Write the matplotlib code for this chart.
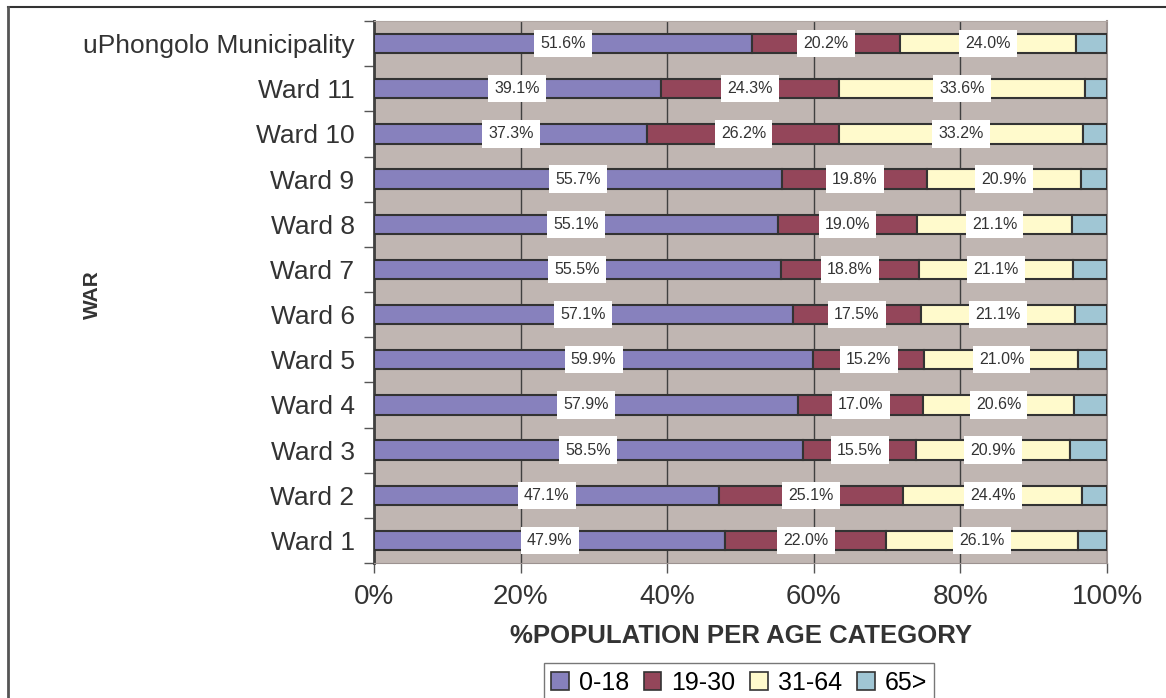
import matplotlib
matplotlib.use('Agg')
import matplotlib.pyplot as plt
import numpy as np

plt.rcParams['font.family'] = ['Liberation Sans', 'DejaVu Sans']

# data (top to bottom as in the chart)
wards = ['uPhongolo Municipality', 'Ward 11', 'Ward 10', 'Ward 9', 'Ward 8', 'Ward 7',
         'Ward 6', 'Ward 5', 'Ward 4', 'Ward 3', 'Ward 2', 'Ward 1']
age_0_18 = [51.6, 39.1, 37.3, 55.7, 55.1, 55.5, 57.1, 59.9, 57.9, 58.5, 47.1, 47.9]
age_19_30 = [20.2, 24.3, 26.2, 19.8, 19.0, 18.8, 17.5, 15.2, 17.0, 15.5, 25.1, 22.0]
age_31_64 = [24.0, 33.6, 33.2, 20.9, 21.1, 21.1, 21.1, 21.0, 20.6, 20.9, 24.4, 26.1]
age_65 = [4.2, 3.0, 3.3, 3.6, 4.8, 4.6, 4.3, 3.9, 4.5, 5.1, 3.4, 4.0]
series_names = ['0-18', '19-30', '31-64', '65>']
colors = ['#8781BD', '#94465A', '#FFFACC', '#A0C6D4']

fig = plt.figure(figsize=(11.66, 6.98), dpi=100)
ax = fig.add_axes([374/1166, 1 - 563/698, (1107-374)/1166, (563-21)/698])
ax.set_facecolor('#C0B6B2')

y = np.arange(len(wards))[::-1]
series = [age_0_18, age_19_30, age_31_64, age_65]
left = np.zeros(len(wards))
for vals, c, name in zip(series, colors, series_names):
    vals = np.array(vals)
    ax.barh(y, vals, left=left, height=0.43, color=c, edgecolor='#333333',
            linewidth=1.5, label=name, zorder=3)
    if name != '65>':
        for yi, l, v in zip(y, left, vals):
            ax.text(l + v / 2, yi, f'{v:.1f}%', ha='center', va='center',
                    fontsize=11.5, color='#333333', zorder=4,
                    bbox=dict(facecolor='white', edgecolor='none', pad=4.5))
    left += vals

ax.set_xlim(0, 100)
ax.set_ylim(-0.5, len(wards) - 0.5)
ax.set_xticks([0, 20, 40, 60, 80, 100])
ax.set_xticklabels(['0%', '20%', '40%', '60%', '80%', '100%'], fontsize=20, color='#333333')
ax.set_yticks(y)
ax.set_yticklabels(wards, fontsize=19, color='#333333')
ax.set_yticks(np.arange(len(wards) + 1) - 0.5, minor=True)
ax.tick_params(axis='y', which='major', length=0, pad=14)
ax.tick_params(axis='y', which='minor', length=7, width=1, color='#555555')
ax.tick_params(axis='x', length=7, width=1, color='#555555', pad=8)
ax.grid(axis='x', color='#404040', linewidth=1, zorder=1)

ax.spines['left'].set_color('#404040')
ax.spines['left'].set_linewidth(2)
ax.spines['bottom'].set_color('#9C9290')
ax.spines['right'].set_color('#9C9290')
ax.spines['right'].set_linewidth(1.5)
ax.spines['top'].set_color('#B0A6A2')

ax.set_xlabel('%POPULATION PER AGE CATEGORY', fontsize=18.5, fontweight='bold',
              color='#333333', labelpad=10)
fig.text(92/1166, 1 - 295/698, 'WAR', rotation=90, fontsize=15, fontweight='bold',
         color='#333333', ha='center', va='center')

leg = fig.legend(loc='upper center', bbox_to_anchor=(739/1166, 1 - 663/698), ncol=4,
                 fontsize=18, frameon=True, fancybox=False, handlelength=0.7,
                 handleheight=0.7, handletextpad=0.4, columnspacing=0.6,
                 borderpad=0.3, borderaxespad=0, edgecolor='#555555')
leg.get_frame().set_linewidth(1)
for h in leg.legend_handles:
    h.set_edgecolor('#333333')
    h.set_linewidth(1.2)

# outer frame lines (top and left)
fig.add_artist(plt.Line2D([8/1166, 1], [1 - 7/698, 1 - 7/698], color='#333333', linewidth=1.5))
fig.add_artist(plt.Line2D([8/1166, 8/1166], [0, 1 - 7/698], color='#555555', linewidth=2))

fig.savefig('out.png', dpi=100)
